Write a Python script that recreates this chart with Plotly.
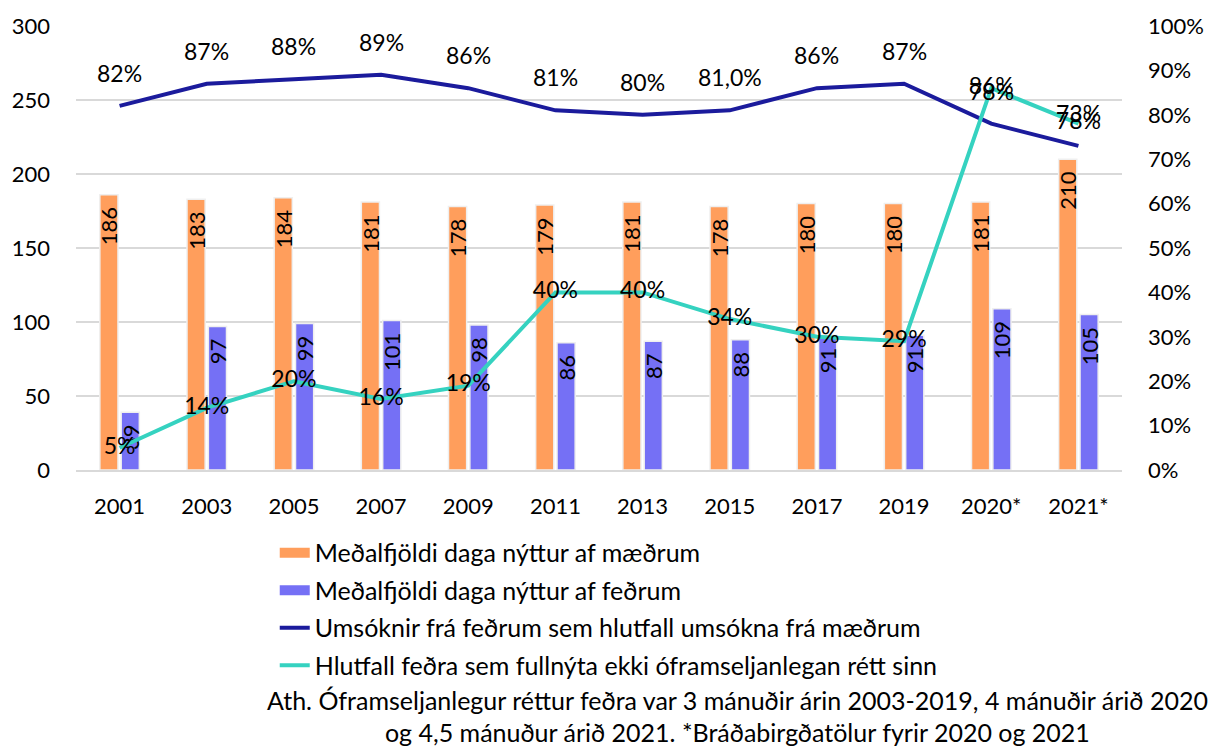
import plotly.graph_objects as go

years = ["2001", "2003", "2005", "2007", "2009", "2011", "2013", "2015", "2017", "2019", "2020*", "2021*"]
mothers_days = [186, 183, 184, 181, 178, 179, 181, 178, 180, 180, 181, 210]
fathers_days = [39, 97, 99, 101, 98, 86, 87, 88, 91, 91, 109, 105]
applications_pct = [82, 87, 88, 89, 86, 81, 80, 81, 86, 87, 78, 73]
applications_labels = ["82%", "87%", "88%", "89%", "86%", "81%", "80%", "81,0%", "86%", "87%", "78%", "73%"]
not_fully_used_pct = [5, 14, 20, 16, 19, 40, 40, 34, 30, 29, 86, 78]

names = [
    "Meðalfjöldi daga nýttur af mæðrum",
    "Meðalfjöldi daga nýttur af feðrum",
    "Umsóknir frá feðrum sem hlutfall umsókna frá mæðrum",
    "Hlutfall feðra sem fullnýta ekki óframseljanlegan rétt sinn",
]
note_lines = [
    "Ath. Óframseljanlegur réttur feðra var 3 mánuðir árin 2003-2019, 4 mánuðir árið 2020",
    "og 4,5 mánuður árið 2021. *Bráðabirgðatölur fyrir 2020 og 2021",
]

ORANGE = "#FF9E5C"
BLUE = "#7570F5"
NAVY = "#1B1B9C"
TEAL = "#35D2C0"
FONT = "Lato, sans-serif"
LBL = 22
PCT = 23
BIG = 25
PAD = "\u00a0\u2006"  # keeps rotated bar labels a little below the bar top

fig = go.Figure()

fig.add_trace(go.Bar(
    x=years, y=mothers_days, name=names[0], marker_color=ORANGE,
    marker_line=dict(color="#EFEFEF", width=1.5),
    text=[f"{v}{PAD}" for v in mothers_days], textposition="inside", insidetextanchor="end",
    textangle=-90, textfont=dict(color="black", size=LBL, family=FONT),
    showlegend=False, yaxis="y",
))
fig.add_trace(go.Bar(
    x=years, y=fathers_days, name=names[1], marker_color=BLUE,
    marker_line=dict(color="#EFEFEF", width=1.5),
    text=[f"{v}{PAD}" for v in fathers_days], textposition="inside", insidetextanchor="end",
    textangle=-90, textfont=dict(color="black", size=LBL, family=FONT),
    showlegend=False, yaxis="y",
))
fig.add_trace(go.Scatter(
    x=years, y=[v / 100 for v in applications_pct], name=names[2], mode="lines",
    line=dict(color=NAVY, width=4), yaxis="y2", showlegend=False,
))
fig.add_trace(go.Scatter(
    x=years, y=[v / 100 for v in not_fully_used_pct], name=names[3], mode="lines+text",
    line=dict(color=TEAL, width=4), yaxis="y2", showlegend=False,
    text=[f"{v}%" for v in not_fully_used_pct], textposition="middle center",
    textfont=dict(color="black", size=PCT, family=FONT),
))

# legend entries
legend_specs = [(names[0], ORANGE, 14), (names[1], BLUE, 14), (names[2], NAVY, 4), (names[3], TEAL, 4)]
for i, (nm, col, w) in enumerate(legend_specs):
    fig.add_trace(go.Scatter(
        x=[None], y=[None], mode="lines", name=nm, line=dict(color=col, width=w),
        legendgroup=f"g{i}", showlegend=True, yaxis="y",
    ))

annotations = []
for i, (v, lab) in enumerate(zip(applications_pct, applications_labels)):
    annotations.append(dict(x=i, y=v / 100, xref="x", yref="y2", yshift=33, text=lab,
                            showarrow=False, font=dict(size=PCT, color="black", family=FONT)))
annotations.append(dict(x=0.632, y=-0.517, xref="paper", yref="paper", text=note_lines[0],
                        showarrow=False, xanchor="center", yanchor="middle",
                        font=dict(size=BIG, color="black", family=FONT)))
annotations.append(dict(x=0.632, y=-0.591, xref="paper", yref="paper", text=note_lines[1],
                        showarrow=False, xanchor="center", yanchor="middle",
                        font=dict(size=BIG, color="black", family=FONT)))

fig.update_layout(
    width=1216, height=747,
    margin=dict(l=73, r=91, t=25, b=277),
    paper_bgcolor="white", plot_bgcolor="white",
    font=dict(family=FONT, size=LBL, color="black"),
    barmode="group", bargap=0.51, bargroupgap=0.15,
    uniformtext=dict(minsize=LBL, mode="show"),
    xaxis=dict(type="category", categoryorder="array", categoryarray=years,
               range=[-0.5, len(years) - 0.5], showgrid=False, showline=True,
               linecolor="#D9D9D9", linewidth=2,
               ticks="", ticklabelstandoff=16, tickfont=dict(size=LBL)),
    yaxis=dict(range=[0, 300], dtick=50, showgrid=True, gridcolor="#D9D9D9", gridwidth=2,
               zeroline=False, ticks="", ticklabelstandoff=25, tickfont=dict(size=LBL)),
    yaxis2=dict(range=[0, 1], dtick=0.1, tickformat=".0%", overlaying="y", side="right",
                showgrid=False, zeroline=False, ticks="", ticklabelstandoff=25,
                tickfont=dict(size=LBL)),
    legend=dict(x=0.19, y=-0.135, xanchor="left", yanchor="top", orientation="v",
                traceorder="grouped", tracegroupgap=2, font=dict(size=BIG),
                bgcolor="rgba(0,0,0,0)", itemclick=False),
    annotations=annotations,
)

fig.write_html("out.html", config={"displayModeBar": False},
               post_script="document.body.style.margin='0';document.body.style.overflow='hidden';")
